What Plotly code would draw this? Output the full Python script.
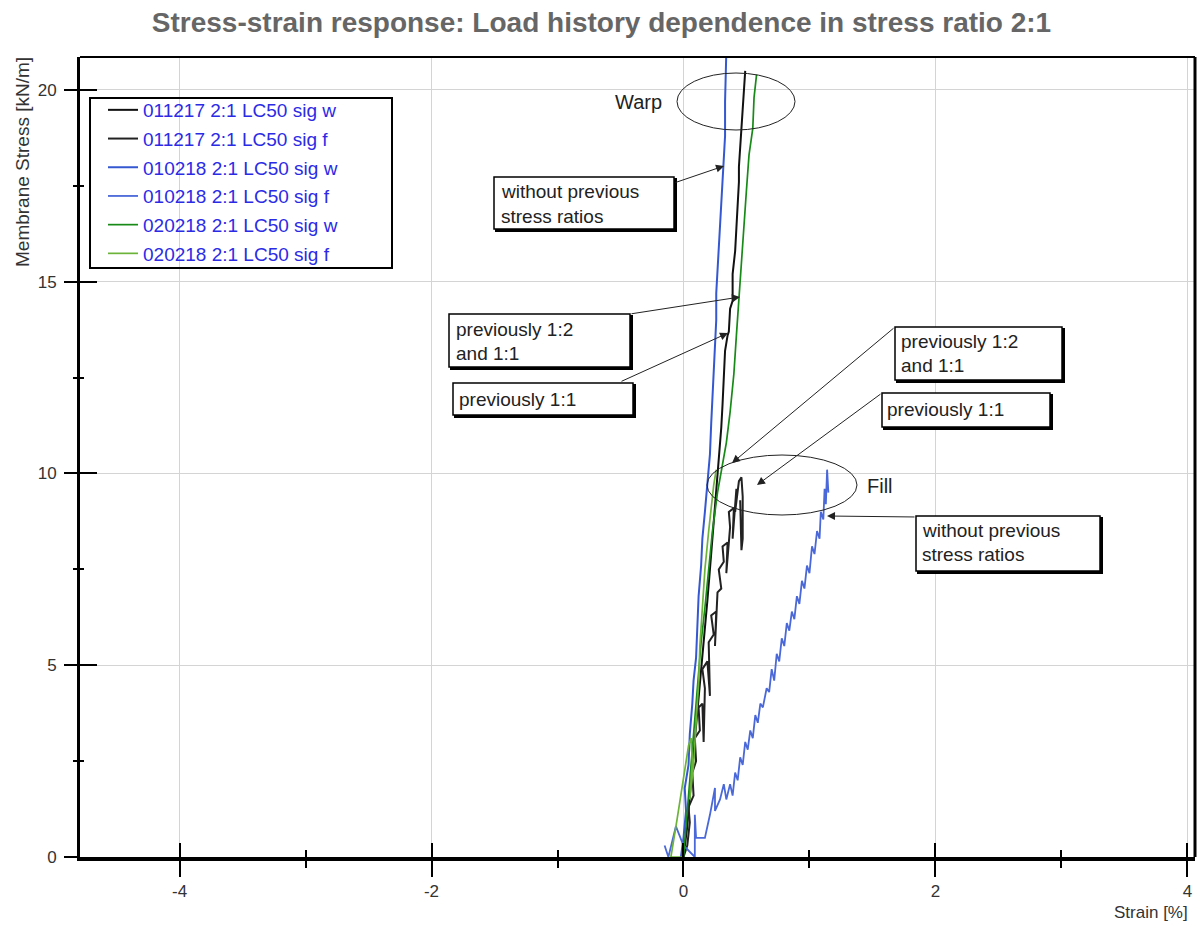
import plotly.graph_objects as go

# ---------------- data ----------------
names = ["011217 2:1 LC50 sig w", "011217 2:1 LC50 sig f",
         "010218 2:1 LC50 sig w", "010218 2:1 LC50 sig f",
         "020218 2:1 LC50 sig w", "020218 2:1 LC50 sig f"]
colors = ["#111111", "#222222", "#3558d0", "#4a68d8", "#178a17", "#6cb33a"]

bw_x = [0.00, 0.03, 0.05, 0.07, 0.09, 0.11, 0.13, 0.15, 0.17, 0.19, 0.21, 0.23, 0.25, 0.27, 0.28, 0.30,
        0.31, 0.32, 0.33, 0.35, 0.36, 0.37, 0.39, 0.39, 0.41, 0.42, 0.43, 0.44, 0.44, 0.45, 0.46, 0.47,
        0.48, 0.49]
bw_y = [0.0, 0.8, 1.6, 2.3, 3.0, 3.8, 4.5, 5.2, 6.0, 6.7, 7.5, 8.3, 9.1, 9.8, 10.4, 11.2,
        11.8, 12.5, 13.2, 13.6, 13.7, 14.3, 14.5, 15.2, 15.8, 16.4, 17.0, 17.6, 18.0, 18.6, 19.0, 19.5,
        20.0, 20.5]

bf_x = [0.00, 0.03, 0.05, 0.04, 0.08, 0.07, 0.10, 0.09, 0.13, 0.12, 0.15, 0.16, 0.17, 0.15, 0.19, 0.21,
        0.20, 0.24, 0.22, 0.26, 0.25, 0.27, 0.30, 0.28, 0.32, 0.31, 0.35, 0.34, 0.37, 0.36, 0.40, 0.39,
        0.42, 0.41, 0.44, 0.46, 0.47, 0.47, 0.46, 0.45]
bf_y = [0.0, 0.3, 0.9, 1.3, 1.6, 2.2, 2.5, 3.1, 3.3, 3.9, 4.0, 3.0, 4.4, 4.9, 5.1, 4.2,
        5.6, 5.8, 6.3, 6.4, 5.5, 6.9, 7.0, 7.5, 7.7, 8.1, 8.2, 7.4, 8.6, 9.0, 9.1, 8.3,
        9.6, 9.0, 9.8, 9.9, 9.4, 8.3, 8.0, 9.3]

lw_x = [-0.02, 0.00, 0.02, 0.01, 0.04, 0.05, 0.07, 0.08, 0.10, 0.11, 0.12, 0.14, 0.15, 0.17, 0.19, 0.21,
        0.22, 0.23, 0.24, 0.25, 0.26, 0.26, 0.27, 0.28, 0.29, 0.30, 0.31, 0.32, 0.33, 0.33, 0.34]
lw_y = [0.0, 0.5, 1.2, 1.8, 2.4, 3.2, 4.0, 4.6, 5.2, 6.0, 6.8, 7.6, 8.3, 9.0, 9.8, 10.5,
        11.3, 12.0, 12.8, 13.5, 14.0, 14.7, 15.3, 15.8, 16.4, 17.0, 17.5, 18.0, 18.8, 19.7, 21.0]

lf_x = [-0.15, -0.12, -0.06, 0.00, 0.09, 0.09, 0.10, 0.17, 0.21, 0.25, 0.25, 0.29, 0.32, 0.34, 0.37, 0.39,
        0.41, 0.43, 0.45, 0.47, 0.49, 0.51, 0.53, 0.55, 0.57, 0.59, 0.61, 0.63, 0.66, 0.68, 0.70, 0.72,
        0.74, 0.76, 0.78, 0.80, 0.82, 0.84, 0.86, 0.88, 0.90, 0.92, 0.94, 0.96, 0.98, 1.00, 1.02, 1.04,
        1.06, 1.08, 1.09, 1.11, 1.12, 1.13, 1.14, 1.15]
lf_y = [0.3, 0.0, 0.8, 0.3, 0.0, 1.1, 0.5, 0.5, 1.1, 1.8, 1.2, 1.5, 1.9, 1.5, 1.9, 1.6,
        2.2, 2.0, 2.6, 2.4, 3.0, 2.8, 3.3, 3.1, 3.7, 3.5, 4.0, 3.9, 4.4, 4.3, 4.9, 4.6,
        5.3, 5.1, 5.7, 5.5, 6.1, 5.9, 6.4, 6.2, 6.8, 6.6, 7.2, 7.0, 7.6, 7.4, 8.1, 7.9,
        8.5, 8.3, 9.0, 8.8, 9.6, 9.2, 10.1, 9.5]

gw_x = [0.00, 0.02, 0.04, 0.06, 0.08, 0.10, 0.12, 0.14, 0.17, 0.20, 0.23, 0.27, 0.31, 0.34, 0.37, 0.40,
        0.42, 0.44, 0.46, 0.48, 0.50, 0.52, 0.55, 0.56, 0.58]
gw_y = [0.0, 0.8, 1.6, 2.4, 3.2, 4.0, 4.8, 5.6, 6.5, 7.5, 8.5, 9.5, 10.2, 10.8, 11.6, 12.6,
        13.6, 14.6, 15.6, 16.5, 17.4, 18.3, 19.0, 19.8, 20.4]

gf_x = [0.00, -0.10, -0.05, 0.00, 0.04, 0.06, 0.07, 0.05, 0.08, 0.10, 0.12, 0.13, 0.15, 0.17, 0.20, 0.22,
        0.24, 0.26]
gf_y = [0.0, 0.0, 1.0, 2.0, 2.9, 3.1, 2.5, 1.5, 2.4, 3.5, 4.5, 5.5, 6.5, 7.5, 8.5, 9.2,
        9.7, 10.1]

series_x = [bw_x, bf_x, lw_x, lf_x, gw_x, gf_x]
series_y = [bw_y, bf_y, lw_y, lf_y, gw_y, gf_y]
widths = [2.0, 2.0, 2.0, 1.8, 1.7, 1.7]

x_ticks = [-4, -2, 0, 2, 4]
x_tick_text = ["-4", "-2", "0", "2", "4"]
y_ticks = [0, 5, 10, 15, 20]

# ---------------- layout constants ----------------
W, H = 1203, 927
L, R, T, B = 80, 1195, 57, 857
XR = [-4.79, 4.06]
YR = [0.0, 20.86]


def px(p):
    return XR[0] + (p - L) / (R - L) * (XR[1] - XR[0])


def py(p):
    return YR[0] + (B - p) / (B - T) * (YR[1] - YR[0])


def ppx(p):
    return (p - L) / (R - L)


def ppy(p):
    return (B - p) / (B - T)


TXT = "Liberation Sans, Arial, sans-serif"
NARROW = "Liberation Sans Narrow, Arial Narrow, Liberation Sans, sans-serif"

fig = go.Figure()
for i in range(6):
    fig.add_trace(go.Scatter(x=series_x[i], y=series_y[i], mode="lines", name=names[i],
                             line=dict(color=colors[i], width=widths[i]),
                             legendgroup="g%d" % i))
# dummy trace for the overlay axes (inside ticks)
fig.add_trace(go.Scatter(x=[None], y=[None], xaxis="x2", yaxis="y2", showlegend=False,
                         hoverinfo="skip"))

axis_font = dict(family=NARROW, size=17, color="#333")
fig.update_layout(
    width=W, height=H,
    margin=dict(l=L, r=W - R, t=T, b=H - B),
    paper_bgcolor="white", plot_bgcolor="white",
    showlegend=True,
    title=dict(text="<b>Stress-strain response: Load history dependence in stress ratio 2:1</b>",
               x=0.5, xanchor="center", y=1 - 22 / H, yanchor="middle",
               font=dict(family=TXT, size=28, color="#666666")),
    xaxis=dict(range=XR, tickvals=x_ticks, ticktext=x_tick_text, ticks="outside", ticklen=16, tickwidth=2,
               tickcolor="black",
               minor=dict(dtick=1, tick0=0, ticks="outside", ticklen=7, tickwidth=2, tickcolor="black", showgrid=False),
               showgrid=True, gridcolor="#d4d4d4", gridwidth=1, zeroline=False,
               showline=True, linewidth=4, linecolor="black", tickfont=axis_font),
    yaxis=dict(range=YR, tickvals=y_ticks, ticks="outside", ticklen=13, tickwidth=2, tickcolor="black",
               minor=dict(dtick=2.5, tick0=0, ticks="outside", ticklen=4, tickwidth=2, tickcolor="black", showgrid=False),
               showgrid=True, gridcolor="#d4d4d4", gridwidth=1, zeroline=False,
               showline=True, linewidth=3, linecolor="black", tickfont=axis_font, ticklabelstandoff=4),
    xaxis2=dict(range=XR, overlaying="x", anchor="y2", side="bottom", tickvals=x_ticks, ticks="inside",
                ticklen=14, tickwidth=2, tickcolor="black",
                minor=dict(dtick=1, tick0=0, ticks="inside", ticklen=7, tickwidth=2, tickcolor="black", showgrid=False),
                showticklabels=False, showgrid=False, zeroline=False, showline=False),
    yaxis2=dict(range=YR, overlaying="y", anchor="x2", side="left", tickvals=y_ticks, ticks="inside",
                ticklen=17, tickwidth=2, tickcolor="black",
                minor=dict(dtick=2.5, tick0=0, ticks="inside", ticklen=4, tickwidth=2, tickcolor="black", showgrid=False),
                showticklabels=False, showgrid=False, zeroline=False, showline=False),
    legend=dict(x=ppx(103), y=ppy(91), xanchor="left", yanchor="top",
                bgcolor="rgba(255,255,255,0)", borderwidth=0, tracegroupgap=1,
                font=dict(family=TXT, size=19, color="#2b2be6")),
)

shapes = []
# frame top/right
shapes.append(dict(type="line", xref="paper", yref="paper", x0=0, x1=1, y0=1, y1=1,
                   line=dict(color="black", width=2)))
shapes.append(dict(type="line", xref="paper", yref="paper", x0=1, x1=1, y0=0, y1=1,
                   line=dict(color="black", width=3)))
# legend box
shapes.append(dict(type="rect", xref="x", yref="y", x0=px(90), x1=px(392), y0=py(98), y1=py(268),
                   line=dict(color="black", width=2), fillcolor="rgba(0,0,0,0)"))
# ellipses
shapes.append(dict(type="circle", xref="x", yref="y", x0=px(677), x1=px(795), y0=py(73), y1=py(130),
                   line=dict(color="#222", width=1)))
shapes.append(dict(type="circle", xref="x", yref="y", x0=px(707), x1=px(857), y0=py(455), y1=py(515),
                   line=dict(color="#222", width=1)))

boxes = [
    ((494, 177, 674, 229), [("without previous", 191), ("stress ratios", 216)], 499),
    ((449, 314, 630, 367), [("previously 1:2", 329), ("and 1:1", 353)], 454),
    ((453, 383, 633, 415), [("previously 1:1", 399)], 457),
    ((895, 327, 1062, 380), [("previously 1:2", 341), ("and 1:1", 365)], 899),
    ((882, 393, 1050, 427), [("previously 1:1", 409)], 885),
    ((916, 516, 1100, 571), [("without previous", 530), ("stress ratios", 554)], 920),
]
annotations = []
for (x0, y0, x1, y1), lines, tx in boxes:
    shapes.append(dict(type="rect", xref="x", yref="y", x0=px(x0 + 2), x1=px(x1 + 2), y0=py(y0 + 2), y1=py(y1 + 2),
                       line=dict(color="black", width=2), fillcolor="black"))
    shapes.append(dict(type="rect", xref="x", yref="y", x0=px(x0), x1=px(x1), y0=py(y0), y1=py(y1),
                       line=dict(color="black", width=1.5), fillcolor="white"))
    for txt, ty in lines:
        annotations.append(dict(x=px(tx), y=py(ty), xref="x", yref="y", text=txt, showarrow=False,
                                xanchor="left", yanchor="middle",
                                font=dict(family=TXT, size=19, color="#222")))

arrows = [
    ((674, 183), (724, 166)),
    ((630, 314), (740, 297)),
    ((620, 382), (728, 333)),
    ((895, 327), (732, 463)),
    ((882, 393), (757, 485)),
    ((916, 517), (827, 516)),
]
for (tx, ty), (hx, hy) in arrows:
    annotations.append(dict(x=px(hx), y=py(hy), ax=px(tx), ay=py(ty), axref="x", ayref="y",
                            xref="x", yref="y", text="", showarrow=True, arrowhead=2,
                            arrowsize=1.6, arrowwidth=1, arrowcolor="#222"))

annotations.append(dict(x=px(638), y=py(102), xref="x", yref="y", text="Warp", showarrow=False,
                        font=dict(family=TXT, size=20, color="#222")))
annotations.append(dict(x=px(880), y=py(486), xref="x", yref="y", text="Fill", showarrow=False,
                        font=dict(family=TXT, size=20, color="#222")))
annotations.append(dict(x=ppx(22), y=ppy(162), xref="paper", yref="paper", text="Membrane Stress [kN/m]",
                        textangle=-90, showarrow=False, xanchor="center", yanchor="middle",
                        font=dict(family=TXT, size=19, color="#333")))
annotations.append(dict(x=ppx(1190), y=ppy(912), xref="paper", yref="paper", text="Strain [%]",
                        showarrow=False, xanchor="right", yanchor="middle",
                        font=dict(family=NARROW, size=17, color="#333")))

fig.update_layout(shapes=shapes, annotations=annotations)
fig.write_html("out.html")
